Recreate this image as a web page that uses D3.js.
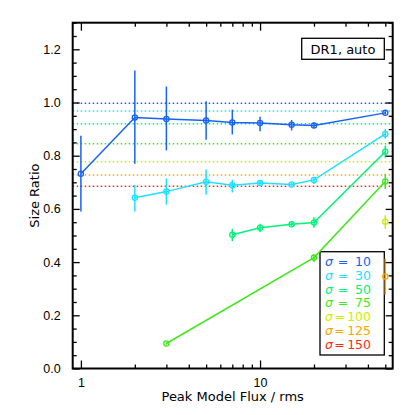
<!DOCTYPE html>
<html>
<head>
<meta charset="utf-8">
<script src="https://cdn.jsdelivr.net/npm/d3@7"></script>
<style>
  body { margin: 0; background: #fff; }
  svg { display: block; font-family: "DejaVu Sans", sans-serif; }
</style>
</head>
<body>
<svg id="chart" width="415" height="415"></svg>
<script>
// --------------------------
// DATA
// --------------------------
const fluxBins = [1, 2, 3, 5, 7, 10, 15, 20, 50];
const sigmas = [10, 30, 50, 75, 100, 125, 150];
const sigmaColors = ["#1862f5", "#1ee0ff", "#00f27a", "#3ee81a", "#c6f000", "#ffa400", "#ff2a14"];
// expected ratio for each sigma (dotted lines)
const refRatios = [0.997, 0.968, 0.92, 0.845, 0.777, 0.727, 0.685];

const ratio10 = [0.732, 0.944, 0.938, 0.932, 0.925, 0.923, 0.916, 0.914, 0.961];
const lo10    = [0.59, 0.77, 0.82, 0.86, 0.88, 0.892, 0.895, 0.905, 0.955];
const hi10    = [0.875, 1.12, 1.06, 1.005, 0.973, 0.946, 0.934, 0.925, 0.967];

const ratio30 = [null, 0.642, 0.665, 0.702, 0.689, 0.697, 0.692, 0.709, 0.882];
const lo30    = [null, 0.59, 0.616, 0.653, 0.662, 0.686, 0.685, 0.694, 0.864];
const hi30    = [null, 0.69, 0.715, 0.748, 0.709, 0.708, 0.699, 0.72, 0.90];

const ratio50 = [null, null, null, null, 0.503, 0.529, 0.542, 0.549, 0.815];
const lo50    = [null, null, null, null, 0.479, 0.512, 0.536, 0.529, 0.792];
const hi50    = [null, null, null, null, 0.525, 0.544, 0.548, 0.569, 0.838];

const ratio75 = [null, null, 0.094, null, null, null, null, 0.417, 0.703];
const lo75    = [null, null, 0.09, null, null, null, null, 0.40, 0.675];
const hi75    = [null, null, 0.098, null, null, null, null, 0.428, 0.732];

const ratio100 = [null, null, null, null, null, null, null, null, 0.552];
const lo100    = [null, null, null, null, null, null, null, null, 0.525];
const hi100    = [null, null, null, null, null, null, null, null, 0.576];

const ratio125 = [null, null, null, null, null, null, null, null, 0.346];
const lo125    = [null, null, null, null, null, null, null, null, 0.278];
const hi125    = [null, null, null, null, null, null, null, null, 0.413];

const ratio150 = [null, null, null, null, null, null, null, null, null];

const seriesRatios = [ratio10, ratio30, ratio50, ratio75, ratio100, ratio125, ratio150];
const seriesLo = [lo10, lo30, lo50, lo75, lo100, lo125, ratio150];
const seriesHi = [hi10, hi30, hi50, hi75, hi100, hi125, ratio150];

const xMajor = [1, 10];
const xMinor = [2, 3, 4, 5, 6, 7, 8, 9, 20, 30, 40, 50];
const yMajor = [0, 0.2, 0.4, 0.6, 0.8, 1.0, 1.2];
const yMinor = d3.range(0, 1.301, 0.05).filter(v => !yMajor.some(m => Math.abs(m - v) < 1e-6));

// --------------------------
// SCALES
// --------------------------
const svg = d3.select("#chart");
const pLeft = 72.7, pRight = 392.7, pTop = 22.7, pBottom = 368.5;

const x = d3.scaleLog().domain([0.9, 55]).range([pLeft, pRight]);
const y = d3.scaleLinear().domain([0, 1.3]).range([pBottom, pTop]);

// Dotted reference lines
svg.append("g")
    .selectAll("line")
    .data(refRatios)
    .enter()
    .append("line")
    .attr("x1", pLeft)
    .attr("x2", pRight)
    .attr("y1", d => y(d))
    .attr("y2", d => y(d))
    .attr("stroke", (d, i) => sigmaColors[i])
    .attr("stroke-width", 1.5)
    .attr("stroke-dasharray", "1.5,2.5");

// --------------------------
// LEGEND (drawn under the data)
// --------------------------
const legend = svg.append("g");
legend.append("rect")
    .attr("x", 320).attr("y", 251.7).attr("width", 64.3).attr("height", 103.3)
    .attr("fill", "#fff").attr("stroke", "#000").attr("stroke-width", 1.3);

const row = legend.selectAll("g.row")
    .data(sigmas)
    .enter()
    .append("g")
    .attr("transform", (d, i) => `translate(0,${266 + i * 13.8})`);

row.append("text")
    .attr("x", 329).attr("text-anchor", "middle")
    .attr("font-size", 12.5).attr("font-style", "italic")
    .attr("fill", (d, i) => sigmaColors[i])
    .text("σ");
row.append("text")
    .attr("x", d => d >= 100 ? 339.5 : 343).attr("text-anchor", "middle")
    .attr("font-size", 12.5)
    .attr("fill", (d, i) => sigmaColors[i])
    .text("=");
row.append("text")
    .attr("x", 371).attr("text-anchor", "end")
    .attr("font-size", 12.5)
    .attr("fill", (d, i) => sigmaColors[i])
    .text(d => d);

// Series
seriesRatios.forEach((vals, i) => {
    const pts = fluxBins.map((f, j) => ({ f, v: vals[j], lo: seriesLo[i][j], hi: seriesHi[i][j] }))
        .filter(d => d.v != null);
    const g = svg.append("g");
    const col = sigmaColors[i];

    g.append("path")
        .datum(pts)
        .attr("d", d3.line().x(d => x(d.f)).y(d => y(d.v)))
        .attr("fill", "none")
        .attr("stroke", col)
        .attr("stroke-width", 1.5);

    g.selectAll("line.err")
        .data(pts)
        .enter()
        .append("line")
        .attr("x1", d => x(d.f))
        .attr("x2", d => x(d.f))
        .attr("y1", d => y(d.lo))
        .attr("y2", d => y(d.hi))
        .attr("stroke", col)
        .attr("stroke-width", 1.5);

    g.selectAll("circle")
        .data(pts)
        .enter()
        .append("circle")
        .attr("cx", d => x(d.f))
        .attr("cy", d => y(d.v))
        .attr("r", 2.6)
        .attr("fill", "none")
        .attr("stroke", col)
        .attr("stroke-width", 1.3);
});

// --------------------------
// AXES (IDL style box with ticks on all sides)
// --------------------------
function styleAxis(g) {
    g.select(".domain").remove();
    g.selectAll(".tick line").attr("stroke", "#000").attr("stroke-width", 1.3);
    g.selectAll(".tick text").attr("fill", "#000").attr("font-size", 12.5);
}

// bottom
svg.append("g").attr("transform", `translate(0,${pBottom})`)
    .call(d3.axisBottom(x).tickValues(xMajor).tickSize(-8).tickPadding(10).tickFormat(d3.format("d")))
    .call(styleAxis);
svg.append("g").attr("transform", `translate(0,${pBottom})`)
    .call(d3.axisBottom(x).tickValues(xMinor).tickSize(-4).tickFormat(""))
    .call(styleAxis);
// top
svg.append("g").attr("transform", `translate(0,${pTop})`)
    .call(d3.axisTop(x).tickValues(xMajor).tickSize(-8).tickFormat(""))
    .call(styleAxis);
svg.append("g").attr("transform", `translate(0,${pTop})`)
    .call(d3.axisTop(x).tickValues(xMinor).tickSize(-4).tickFormat(""))
    .call(styleAxis);
// left
svg.append("g").attr("transform", `translate(${pLeft},0)`)
    .call(d3.axisLeft(y).tickValues(yMajor).tickSize(-7).tickPadding(12).tickFormat(d3.format(".1f")))
    .call(styleAxis);
svg.append("g").attr("transform", `translate(${pLeft},0)`)
    .call(d3.axisLeft(y).tickValues(yMinor).tickSize(-4).tickFormat(""))
    .call(styleAxis);
// right
svg.append("g").attr("transform", `translate(${pRight},0)`)
    .call(d3.axisRight(y).tickValues(yMajor).tickSize(-7).tickFormat(""))
    .call(styleAxis);
svg.append("g").attr("transform", `translate(${pRight},0)`)
    .call(d3.axisRight(y).tickValues(yMinor).tickSize(-4).tickFormat(""))
    .call(styleAxis);

// frame
svg.append("rect")
    .attr("x", pLeft).attr("y", pTop)
    .attr("width", pRight - pLeft).attr("height", pBottom - pTop)
    .attr("fill", "none").attr("stroke", "#000").attr("stroke-width", 2);

// axis titles
svg.append("text")
    .attr("x", (pLeft + pRight) / 2).attr("y", 401)
    .attr("text-anchor", "middle").attr("font-size", 13)
    .text("Peak Model Flux / rms");
svg.append("text")
    .attr("transform", `translate(39,${(pTop + pBottom) / 2}) rotate(-90)`)
    .attr("text-anchor", "middle").attr("font-size", 13)
    .text("Size Ratio");

// DR1 label box
svg.append("rect")
    .attr("x", 301.7).attr("y", 38.3).attr("width", 82.6).attr("height", 21)
    .attr("fill", "#fff").attr("stroke", "#000").attr("stroke-width", 1.3);
svg.append("text")
    .attr("x", 343).attr("y", 53.5)
    .attr("text-anchor", "middle").attr("font-size", 13)
    .text("DR1, auto");
</script>
</body>
</html>
